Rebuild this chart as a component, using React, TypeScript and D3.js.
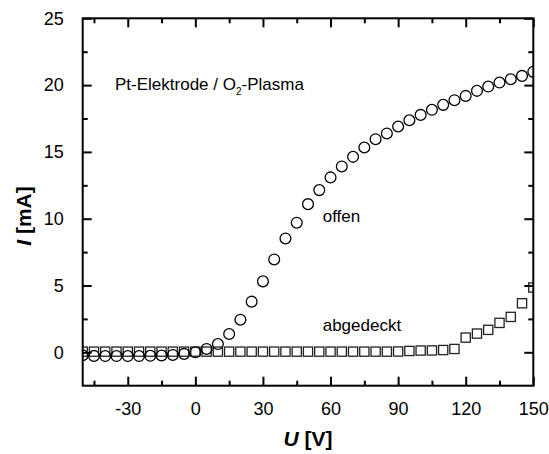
import React, { useEffect, useRef } from 'react';
import * as d3 from 'd3';

// U [V] values for both series
const voltage = [
  -50, -45, -40, -35, -30, -25, -20, -15, -10, -5,
  0, 5, 10, 15, 20, 25, 30, 35, 40, 45,
  50, 55, 60, 65, 70, 75, 80, 85, 90, 95,
  100, 105, 110, 115, 120, 125, 130, 135, 140, 145, 150,
];

// I [mA], electrode open ("offen")
const currentOpen = [
  -0.22, -0.27, -0.28, -0.28, -0.28, -0.28, -0.26, -0.24, -0.2, -0.12,
  0.0, 0.25, 0.62, 1.37, 2.44, 3.79, 5.31, 6.95, 8.52, 9.7,
  11.09, 12.14, 13.09, 13.91, 14.63, 15.33, 15.95, 16.38, 16.9, 17.37,
  17.77, 18.15, 18.52, 18.87, 19.19, 19.57, 19.89, 20.19, 20.44, 20.69, 20.99,
];

// I [mA], electrode covered ("abgedeckt")
const currentCovered = [
  0.05, 0.05, 0.05, 0.05, 0.05, 0.05, 0.05, 0.05, 0.05, 0.05,
  0.05, 0.05, 0.05, 0.05, 0.05, 0.05, 0.05, 0.05, 0.05, 0.05,
  0.05, 0.05, 0.05, 0.05, 0.05, 0.05, 0.05, 0.05, 0.06, 0.1,
  0.13, 0.14, 0.17, 0.25, 1.1, 1.4, 1.68, 2.2, 2.65, 3.67, 4.85,
];

const xMajorTicks = [-30, 0, 30, 60, 90, 120, 150];
const xMinorTicks = [-45, -15, 15, 45, 75, 105, 135];
const yMajorTicks = [0, 5, 10, 15, 20, 25];
const yMinorTicks = [2.5, 7.5, 12.5, 17.5, 22.5];

const FONT = "Arial, 'Liberation Sans', sans-serif";

const App = () => {
  const svgRef = useRef<SVGSVGElement>(null);

  useEffect(() => {
    const width = 549;
    const height = 454;
    const margin = { top: 18.3, right: 15.7, bottom: 68.3, left: 82.7 };
    const innerW = width - margin.left - margin.right;
    const innerH = height - margin.top - margin.bottom;

    const root = d3.select(svgRef.current);
    root.selectAll('*').remove();

    const svg = root.append('g')
      .attr('transform', `translate(${margin.left},${margin.top})`);

    const xScale = d3.scaleLinear().domain([-50, 150]).range([0, innerW]);
    const yScale = d3.scaleLinear().domain([-2.5, 25]).range([innerH, 0]);

    svg.append('clipPath')
      .attr('id', 'plot-clip')
      .append('rect')
      .attr('width', innerW)
      .attr('height', innerH);

    const styleAxis = (g, labels) => {
      g.select('.domain').remove();
      g.selectAll('.tick line').attr('stroke', '#000').attr('stroke-width', 2);
      g.selectAll('.tick text')
        .attr('fill', '#000')
        .style('font-family', FONT)
        .style('font-size', '18px');
      if (!labels) g.selectAll('.tick text').remove();
    };

    const plain = (d) => String(d); // hyphen minus like the original

    // inward ticks on all four sides
    svg.append('g')
      .attr('transform', `translate(0,${innerH})`)
      .call(d3.axisBottom(xScale).tickValues(xMajorTicks).tickSize(-9).tickPadding(17).tickFormat(plain))
      .call(g => styleAxis(g, true));
    svg.append('g')
      .attr('transform', `translate(0,${innerH})`)
      .call(d3.axisBottom(xScale).tickValues(xMinorTicks).tickSize(-5))
      .call(g => styleAxis(g, false));
    svg.append('g')
      .call(d3.axisTop(xScale).tickValues(xMajorTicks).tickSize(-9))
      .call(g => styleAxis(g, false));
    svg.append('g')
      .call(d3.axisTop(xScale).tickValues(xMinorTicks).tickSize(-5))
      .call(g => styleAxis(g, false));

    svg.append('g')
      .call(d3.axisLeft(yScale).tickValues(yMajorTicks).tickSize(-9).tickPadding(19).tickFormat(plain))
      .call(g => styleAxis(g, true));
    svg.append('g')
      .call(d3.axisLeft(yScale).tickValues(yMinorTicks).tickSize(-5))
      .call(g => styleAxis(g, false));
    svg.append('g')
      .attr('transform', `translate(${innerW},0)`)
      .call(d3.axisRight(yScale).tickValues(yMajorTicks).tickSize(-9))
      .call(g => styleAxis(g, false));
    svg.append('g')
      .attr('transform', `translate(${innerW},0)`)
      .call(d3.axisRight(yScale).tickValues(yMinorTicks).tickSize(-5))
      .call(g => styleAxis(g, false));

    // data markers
    const marks = svg.append('g').attr('clip-path', 'url(#plot-clip)');

    marks.selectAll('.sq')
      .data(voltage)
      .enter().append('rect')
      .attr('class', 'sq')
      .attr('x', (d) => xScale(d) - 4.6)
      .attr('y', (d, i) => yScale(currentCovered[i]) - 4.6)
      .attr('width', 9.2)
      .attr('height', 9.2)
      .attr('fill', 'none')
      .attr('stroke', '#222')
      .attr('stroke-width', 1.3);

    marks.selectAll('.circ')
      .data(voltage)
      .enter().append('circle')
      .attr('class', 'circ')
      .attr('cx', (d) => xScale(d))
      .attr('cy', (d, i) => yScale(currentOpen[i]))
      .attr('r', 5.4)
      .attr('fill', 'none')
      .attr('stroke', '#000')
      .attr('stroke-width', 1.3);

    // frame
    svg.append('rect')
      .attr('width', innerW)
      .attr('height', innerH)
      .attr('fill', 'none')
      .attr('stroke', '#000')
      .attr('stroke-width', 2);

    // annotations
    const title = root.append('text')
      .attr('x', 115)
      .attr('y', 89.5)
      .style('font-family', FONT)
      .style('font-size', '17px')
      .attr('fill', '#000');
    title.append('tspan').text('Pt-Elektrode / O');
    title.append('tspan').attr('dy', 5).style('font-size', '10px').text('2');
    title.append('tspan').attr('dy', -5).text('-Plasma');

    root.append('text')
      .attr('x', 322.7)
      .attr('y', 222)
      .style('font-family', FONT)
      .style('font-size', '17px')
      .text('offen');

    root.append('text')
      .attr('x', 322.7)
      .attr('y', 331)
      .style('font-family', FONT)
      .style('font-size', '17px')
      .text('abgedeckt');

    // axis titles
    const xTitle = root.append('text')
      .attr('x', 308)
      .attr('y', 446)
      .attr('text-anchor', 'middle')
      .style('font-family', FONT)
      .style('font-size', '21px')
      .style('font-weight', 'bold');
    xTitle.append('tspan').style('font-style', 'italic').text('U');
    xTitle.append('tspan').text(' [V]');

    const yTitle = root.append('text')
      .attr('transform', 'translate(31,216) rotate(-90)')
      .attr('text-anchor', 'middle')
      .style('font-family', FONT)
      .style('font-size', '21px')
      .style('font-weight', 'bold');
    yTitle.append('tspan').style('font-style', 'italic').text('I');
    yTitle.append('tspan').text(' [mA]');
  }, []);

  return (
    <svg
      ref={svgRef}
      width={549}
      height={454}
      style={{ position: 'absolute', left: 0, top: 0, background: '#fff' }}
    />
  );
};

export default App;
